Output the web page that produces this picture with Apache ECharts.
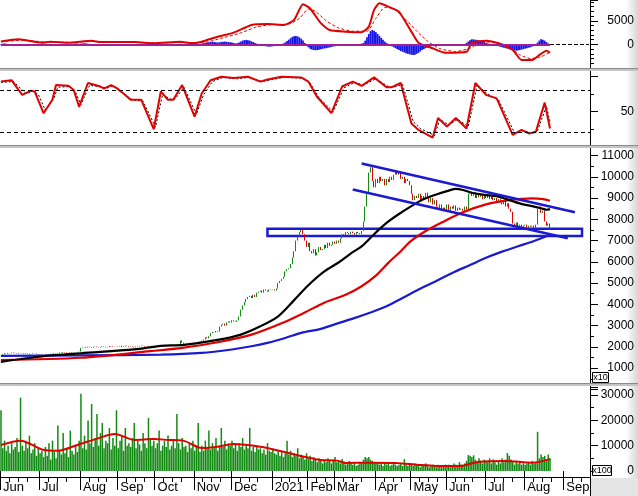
<!DOCTYPE html>
<html><head><meta charset="utf-8">
<script src="https://cdn.jsdelivr.net/npm/echarts@6/dist/echarts.min.js"></script>
<style>html,body{margin:0;padding:0;background:#fff}#c{width:638px;height:496px}</style>
</head><body><div id="c"></div>
<script>
const FONT = '"Liberation Sans", Arial, sans-serif';
// ---- axis: months (trading days per month) ----
const monthLabels = ['Jun','Jul','Aug','Sep','Oct','Nov','Dec','2021','Feb','Mar','Apr','May','Jun','Jul','Aug','Sep'];
const monthDays = [22,23,21,21,22,21,23,20,15,23,20,20,22,22,22,15];

// ---- price closes (x10) ----
const closeJun20 = [1600,1650,1700,1720,1680,1700,1740,1720,1700,1680,1720,1700,1690,1660,1700,1680,1650,1670,1700,1690,1660,1640];
const closeJul20 = [1620,1650,1640,1660,1630,1650,1680,1660,1700,1720,1700,1740,1720,1760,1740,1700,1720,1750,1730,1700,1720,1760,1780];
const closeAug20 = [1950,1980,2000,1970,2010,1990,1960,2000,2020,1990,1970,2000,2030,2010,1980,2000,2040,2020,1990,2010,2000];
const closeSep20 = [2020,2050,2000,2030,2060,2040,2010,2030,2000,1980,2020,2050,2030,2060,2040,2010,2030,2000,2020,2050,2030];
const closeOct20 = [2050,2080,2040,2060,2090,2070,2040,2060,2100,2080,2050,2070,2100,2130,2300,2200,2150,2120,2100,2080,2060,2100];
const closeNov20 = [2120,2150,2200,2250,2300,2350,2450,2400,2500,2650,2700,2680,2750,2720,2950,3050,3100,3000,3150,3200,3150];
const closeDec20 = [3250,3200,3180,3250,3430,3750,3950,4100,4250,4350,4400,4300,4450,4350,4550,4600,4650,4550,4700,4650,4600,4700,4680];
const closeJan21 = [4700,4650,4750,5000,5100,5200,5300,5550,5650,5700,5900,6200,6500,7000,7200,7400,7500,7300,7000,6700];
const closeFeb21 = [6900,6500,6400,6600,6300,6450,6700,6550,6600,6800,6650,6900,6750,6800,6950];
const closeMar21 = [6850,7000,6900,7100,7300,7250,7400,7350,7300,7420,7350,7280,7400,7350,7300,7450,7900,8600,9200,10200,10450,9800,9500];
const closeApr21 = [9900,9700,10000,9800,9900,9600,9900,9750,10000,9850,10100,10300,10100,10200,9900,10000,9700,9900,9800,9600];
const closeMay21 = [9200,8900,9100,9000,9200,8900,9100,8950,9250,9050,8800,9000,8700,8900,8600,8500,8700,8400,8550,8450];
const closeJun21 = [8700,8400,8600,8500,8650,8400,8550,8450,8500,8400,8600,8450,9200,9300,9100,9250,9000,9200,9050,9150,8950,9100];
const closeJul21 = [9000,9150,8950,9050,8900,9000,8850,8950,8800,8700,8900,8600,8750,8500,8350,7800,7700,7850,7650,7750,7600,7700];
const closeAug21 = [7750,7600,7700,7650,7700,7600,7750,8500,8600,8300,8400,7900,7700,7800,7500];

// ---- moving averages on price: [dayIndex, value] ----
const maBlack = [[0,1300],[24,1560],[45,1700],[75,1880],[90,2050],[103,2100],[122,2330],[135,2580],[146,2970],[156,3440],[165,4200],[173,4900],[182,5550],[190,5970],[197,6400],[203,6730],[210,7300],[217,7830],[224,8250],[231,8620],[238,8950],[245,9170],[252,9350],[256,9430],[260,9380],[265,9250],[272,9150],[279,9090],[288,8850],[294,8700],[299,8620],[304,8520],[307,8450],[309,8480]];
const maRed = [[0,1380],[45,1490],[84,1800],[103,1970],[122,2220],[141,2580],[159,3150],[171,3620],[182,4080],[194,4450],[203,4850],[211,5350],[218,5950],[225,6500],[231,7000],[240,7500],[248,7850],[259,8300],[273,8700],[286,8900],[299,8980],[305,8950],[309,8870]];
const maBlue = [[0,1580],[45,1600],[90,1640],[113,1720],[130,1880],[141,2030],[150,2190],[160,2420],[169,2660],[180,2850],[190,3120],[198,3330],[208,3620],[217,3910],[226,4300],[235,4700],[245,5100],[254,5480],[264,5850],[273,6190],[282,6480],[291,6730],[300,6980],[307,7200],[309,7290]];

// ---- drawn annotations: [dayIndex, price] ----
const trendUpper = [[203,10624],[323,8334]];
const trendLower = [[198,9401],[319,7111]];
const supportBox = [[150,7560],[327,7210]];

// ---- MACD ----
const macdLine = [[0,600],[10,1080],[23,360],[28,570],[38,360],[51,780],[56,480],[75,480],[86,230],[101,570],[107,230],[113,570],[122,1630],[131,2480],[141,4100],[150,4300],[159,4100],[165,5200],[170,8500],[174,7600],[180,4500],[185,3050],[194,2700],[203,2550],[207,3750],[210,7300],[213,8700],[218,8000],[224,6900],[231,2700],[235,360],[243,-830],[250,-1760],[262,-1550],[265,360],[273,780],[280,230],[288,-1200],[293,-3300],[299,-3300],[303,-2250],[307,-1330],[309,-1760]];
const macdSignal = [[0,550],[12,900],[25,500],[40,450],[53,650],[60,500],[78,450],[90,300],[104,450],[110,350],[116,500],[125,1400],[134,2300],[144,3700],[153,4200],[162,4300],[168,5500],[173,7500],[177,7000],[183,5000],[190,3500],[198,2800],[206,2800],[211,5500],[216,7800],[221,7600],[228,5200],[234,2800],[240,700],[247,-900],[256,-1500],[264,-800],[270,400],[277,500],[285,-300],[292,-2200],[298,-3000],[304,-2600],[309,-1700]];
const macdHist = [
 100,150,200,150,100,50,0,-50,-100,-150,
 -200,-250,-200,-200,-150,-200,-250,-200,-150,-100,-100,-150,-200,
 -150,-100,-50,0,50,100,50,0,-50,-100,-150,-150,-100,-100,-50,
 0,50,100,150,200,150,100,150,200,250,200,150,100,
 50,0,-50,-100,-150,-200,-200,-150,-150,-100,-150,-200,-200,-150,-100,
 -100,-150,-200,-150,-100,-50,-100,-150,-100,-50,0,-50,-100,-150,-200,-150,-100,-50,-100,-150,-200,
 -150,-100,-50,0,50,100,50,0,-50,-100,-50,0,50,100,150,100,50,0,-50,-100,-150,-100,-50,0,50,100,
 150,250,350,400,450,500,550,500,450,400,450,500,550,600,550,500,450,400,300,200,250,400,600,800,900,
 950,900,800,650,500,300,150,0,
 -100,-200,-300,-400,-450,-500,-450,-400,-350,-300,-200,-100,0,200,400,
 700,1000,1300,1600,1750,1800,1700,1500,1200,800,300,-200,
 -600,-900,-1100,-1200,-1250,-1200,-1150,-1050,-950,-850,-800,-700,-650,-550,-450,-400,-300,-250,
 -200,-150,-100,-100,-50,0,-50,-100,-50,0,50,100,150,300,
 800,1500,2200,2800,3050,2900,2600,2200,1800,1400,1000,600,300,100,
 -200,-400,-600,-800,-1000,-1200,-1400,-1550,-1700,-1850,-2000,-2100,-2200,-2250,-2200,-2000,-1800,-1500,-1200,-1000,-800,-650,-500,-400,-350,
 -300,-300,-250,-250,-300,-350,-300,-250,-200,-200,-150,-150,-100,-100,-50,0,50,100,
 300,600,900,1080,1050,1000,900,800,700,600,500,300,
 200,100,0,-100,-200,-300,-400,
 -500,-600,-700,-800,-900,-1000,-1100,-1200,-1300,-1330,-1300,-1200,-1100,-1000,-900,-800,-700,-600,-450,-300,
 0,400,800,1100,1000,800,500,200,-100];

// ---- oscillator ----
const oscK = [[0,93],[6,95],[8,88],[12,74],[17,80],[19,79],[24,48],[29,67],[31,88],[38,87],[41,81],[44,57],[49,91],[56,86],[58,83],[62,88],[65,84],[69,76],[73,67],[79,67],[86,25],[90,79],[94,67],[97,67],[102,88],[109,43],[113,76],[118,95],[124,100],[131,98],[139,100],[146,93],[150,96],[158,100],[169,99],[173,93],[178,71],[186,48],[192,86],[198,93],[203,87],[210,99],[217,85],[220,85],[225,91],[231,33],[235,24],[243,13],[246,41],[251,29],[256,41],[262,26],[267,91],[273,74],[279,69],[288,17],[293,24],[297,19],[301,21],[306,63],[309,26]];
const oscD = [[0,92],[7,93],[10,86],[14,76],[18,79],[21,75],[25,52],[30,70],[32,85],[39,86],[42,78],[45,60],[50,88],[57,85],[60,84],[63,87],[66,82],[70,74],[74,67],[80,65],[87,28],[91,75],[95,68],[98,68],[103,85],[110,46],[114,74],[119,93],[125,99],[132,97],[140,99],[147,93],[151,95],[159,99],[170,98],[174,91],[179,70],[187,50],[193,84],[199,92],[204,88],[211,97],[218,86],[221,85],[226,89],[232,36],[236,26],[244,16],[247,39],[252,31],[257,39],[263,29],[268,88],[274,75],[280,67],[289,20],[294,23],[298,20],[302,23],[307,58],[309,35]];
const oscLevels = [80, 20];

// ---- volume (x100) ----
const volJun20 = [24000,9000,12000,8000,10000,7000,11000,8500,9500,13000,7500,29000,10000,8000,12000,9000,14000,7000,8500,11000,6000,9000];
const volJul20 = [7000,8000,5500,9500,6000,11000,4500,12000,7500,5000,18000,8000,6500,15000,7000,9000,5500,16000,8000,6500,10000,7500,12000];
const volAug20 = [30500,9000,14000,8500,20000,11000,26500,9500,13000,22500,10000,15000,19000,9000,12000,11000,17000,8500,13000,10000,24000];
const volSep20 = [9000,12000,14000,8000,17000,10000,11000,9500,13000,19000,9000,12000,10500,8000,15000,11000,9000,21000,13000,10000,12000];
const volOct20 = [9000,11000,16000,8000,10000,12000,9500,14000,8500,10000,12000,9000,22500,11000,8500,13000,9500,10000,7500,11000,9000,12000];
const volNov20 = [8000,9500,19000,7500,10000,8000,12000,9000,16000,8500,11000,9000,13000,8000,10000,17000,9500,12000,8500,11000,10000];
const volDec20 = [12000,9000,10500,8000,11000,9500,13000,8500,10000,9000,17000,8000,9500,7500,10000,8500,9000,7000,8500,6500,11000,8000,7500];
const volJan21 = [9000,7000,6500,8000,6000,7500,5500,7000,12000,6500,8000,5500,7000,6000,9000,5000,6500,5500,4500,7000];
const volFeb21 = [5000,6000,4000,5500,4500,3500,5000,4000,3000,4500,3500,5000,4000,3000,4500];
const volMar21 = [5500,3500,4000,3000,4700,3500,2500,3000,4000,3500,2500,3000,2000,2500,3500,3000,4500,5500,5000,5500,4500,4000,3500];
const volApr21 = [3000,3500,2500,3000,2000,3500,2500,3000,2000,2500,3000,2500,2000,2500,3000,2000,4700,2500,2000,3000];
const volMay21 = [2500,2000,3000,2500,2000,1500,2500,2000,3000,2500,1500,2000,2500,2000,1500,2500,2000,1500,2000,2500];
const volJun21 = [2000,2500,1500,2000,3000,2500,2000,3500,2500,2000,3000,4000,6300,6000,5500,6200,4500,3500,5000,4000,3000,4500];
const volJul21 = [4000,3500,5000,3000,4500,3500,2500,4000,3000,5000,3500,4500,7100,6000,4500,3500,2500,4000,3000,3500,2500,3000];
const volAug21 = [2500,3000,3500,2500,4000,3000,3500,15500,5000,6500,5500,6000,4500,6500,5000];
const volMA = [[0,10300],[11,12000],[24,8300],[32,8000],[43,10300],[55,13000],[64,14600],[75,12300],[86,12600],[94,12300],[103,11900],[113,9100],[122,9600],[131,10700],[146,9600],[159,7600],[174,5100],[180,4300],[189,4100],[194,3200],[207,3300],[222,3200],[235,2400],[245,2000],[258,2000],[269,3700],[284,4000],[299,3300],[309,4700]];

// ---- build ----
const closes = [].concat(closeJun20,closeJul20,closeAug20,closeSep20,closeOct20,closeNov20,closeDec20,closeJan21,closeFeb21,closeMar21,closeApr21,closeMay21,closeJun21,closeJul21,closeAug21);
const volumes = [].concat(volJun20,volJul20,volAug20,volSep20,volOct20,volNov20,volDec20,volJan21,volFeb21,volMar21,volApr21,volMay21,volJun21,volJul21,volAug21);
const candles = closes.map((c,i)=>{ const o = i ? closes[i-1] : c; return [o, c, Math.min(o,c), Math.max(o,c)]; });

const cats = [], monthStart = new Set(), weekTick = new Set(), labelAt = {};
let k = 0;
monthDays.forEach((n,m)=>{
  monthStart.add(k); labelAt[k] = monthLabels[m];
  for (let d=0; d<n; d++){ if (d>0 && d%5===0 && d<n-3) weekTick.add(k+d); cats.push('d'+(k+d)); }
  k += n;
});
const lastIdx = closes.length - 1;

const BLUE = '#1a1ad0', RED = '#e00000', GREEN = '#138a13';

function yAx(gi, min, max, interval, fmt, minorSplit){
  return {type:'value', gridIndex:gi, position:'right', min, max, interval,
    axisLine:{show:true, onZero:false, lineStyle:{color:'#000', width:1}},
    axisTick:{show:true, length:8, lineStyle:{color:'#000'}},
    minorTick:{show:true, splitNumber:minorSplit, length:4, lineStyle:{color:'#000'}},
    splitLine:{show:false}, minorSplitLine:{show:false},
    axisLabel:{show:true, align:'right', margin:44, fontSize:12, color:'#000', fontFamily:FONT, formatter:fmt}};
}
function xHidden(gi){ return {type:'category', gridIndex:gi, data:cats, boundaryGap:true, show:false}; }

const chart = echarts.init(document.getElementById('c'), null, {renderer:'canvas'});
chart.setOption({
  animation:false,
  backgroundColor:'#fff',
  grid:[
    {left:0, top:0, width:590, height:68},
    {left:0, top:69.7, width:590, height:77},
    {left:0, top:147, width:590, height:242.45},
    {left:0, top:387, width:590, height:84}
  ],
  xAxis:[
    xHidden(0), xHidden(1), xHidden(2),
    {type:'category', gridIndex:3, data:cats, boundaryGap:true, position:'bottom', offset:6,
      axisLine:{show:true, onZero:false, lineStyle:{color:'#000'}},
      axisTick:{show:true, interval:(i)=>weekTick.has(i), length:5, lineStyle:{color:'#000'}},
      axisLabel:{show:true, interval:(i)=>monthStart.has(i), formatter:(v,i)=>labelAt[i]||'', align:'left', margin:4, fontSize:13, color:'#000', fontFamily:FONT, padding:[0,0,0,2]}},
    {type:'category', gridIndex:3, data:cats, boundaryGap:true, position:'bottom', offset:6,
      axisLine:{show:false}, axisLabel:{show:false},
      axisTick:{show:true, interval:(i)=>monthStart.has(i), length:19, lineStyle:{color:'#000'}}}
  ],
  yAxis:[
    yAx(0, -5000, 9400, 5000, v=>(v===0||v===5000)?String(v):'', 5),
    yAx(1, 0, 110, 50, v=>v===50?'50':'', 2),
    yAx(2, 0, 11400, 1000, v=>(v>=1000&&v<=11000&&v%1000===0)?String(v):'', 2),
    yAx(3, 0, 33200, 10000, v=>(v%10000===0&&v<=30000)?String(v):'', 2)
  ],
  series:[
    {type:'bar', xAxisIndex:0, yAxisIndex:0, data:macdHist, barCategoryGap:'0%', itemStyle:{color:'#1616e8'},
      markLine:{silent:true, symbol:['none','none'], label:{show:false},
        data:[
          [{coord:[0,0], lineStyle:{color:'#a0209a', width:2, type:'solid'}},{coord:[lastIdx,0], lineStyle:{color:'#a0209a', width:2, type:'solid'}}],
          [{coord:[lastIdx,0], lineStyle:{color:'#000', width:1, type:'dashed'}},{coord:[cats.length-1,0], lineStyle:{color:'#000', width:1, type:'dashed'}}]
        ]}},
    {type:'line', xAxisIndex:0, yAxisIndex:0, data:macdSignal, symbol:'none', smooth:0.2, lineStyle:{color:RED, width:1, type:[3,2]}},
    {type:'line', xAxisIndex:0, yAxisIndex:0, data:macdLine, symbol:'none', smooth:0.2, lineStyle:{color:RED, width:2}},
    {type:'line', xAxisIndex:1, yAxisIndex:1, data:oscD, symbol:'none', lineStyle:{color:'#000', width:1, type:[2,2]},
      markLine:{silent:true, symbol:['none','none'], label:{show:false}, lineStyle:{color:'#000', width:1, type:[4,3]},
        data:oscLevels.map(v=>({yAxis:v}))}},
    {type:'line', xAxisIndex:1, yAxisIndex:1, data:oscK, symbol:'none', lineStyle:{color:RED, width:2}},
    {type:'candlestick', xAxisIndex:2, yAxisIndex:2, data:candles, barWidth:1,
      itemStyle:{color:GREEN, borderColor:GREEN, color0:RED, borderColor0:RED, borderWidth:1}},
    {type:'line', xAxisIndex:2, yAxisIndex:2, data:maBlue, symbol:'none', smooth:0.3, lineStyle:{color:BLUE, width:2.2}},
    {type:'line', xAxisIndex:2, yAxisIndex:2, data:maRed, symbol:'none', smooth:0.3, lineStyle:{color:RED, width:2.2}},
    {type:'line', xAxisIndex:2, yAxisIndex:2, data:maBlack, symbol:'none', smooth:0.3, lineStyle:{color:'#000', width:2.2},
      markLine:{silent:true, symbol:['none','none'], label:{show:false}, lineStyle:{color:BLUE, width:2.5, type:'solid'},
        data:[[{coord:trendUpper[0]},{coord:trendUpper[1]}],[{coord:trendLower[0]},{coord:trendLower[1]}]]},
      markArea:{silent:true, label:{show:false}, itemStyle:{color:'rgba(0,0,0,0)', borderColor:BLUE, borderWidth:2.5},
        data:[[{coord:supportBox[0]},{coord:supportBox[1]}]]}},
    {type:'bar', xAxisIndex:3, yAxisIndex:3, data:volumes, barCategoryGap:'15%', itemStyle:{color:GREEN}},
    {type:'line', xAxisIndex:3, yAxisIndex:3, data:volMA, symbol:'none', smooth:0.3, lineStyle:{color:RED, width:2}}
  ],
  graphic:[
    {type:'rect', z:-10, shape:{x:626, y:0, width:12, height:496}, style:{fill:new echarts.graphic.LinearGradient(0,0,1,0,[{offset:0,color:'#ffffff'},{offset:1,color:'#d6d6d6'}])}},
    {type:'rect', z:-10, shape:{x:591, y:478, width:47, height:18}, style:{fill:'#e4e4e4'}},
    {type:'rect', z:50, shape:{x:0, y:68, width:638, height:3}, style:{fill:'#c4c4c4'}},
    {type:'line', z:50, shape:{x1:0, y1:68.5, x2:638, y2:68.5}, style:{stroke:'#8c8c8c', lineWidth:1}},
    {type:'rect', z:50, shape:{x:0, y:145, width:638, height:3}, style:{fill:'#c4c4c4'}},
    {type:'line', z:50, shape:{x1:0, y1:145.5, x2:638, y2:145.5}, style:{stroke:'#8c8c8c', lineWidth:1}},
    {type:'rect', z:50, shape:{x:0, y:383, width:638, height:3}, style:{fill:'#c4c4c4'}},
    {type:'line', z:50, shape:{x1:0, y1:383.5, x2:638, y2:383.5}, style:{stroke:'#8c8c8c', lineWidth:1}},
    {type:'line', z:50, shape:{x1:590.5, y1:470, x2:590.5, y2:496}, style:{stroke:'#000', lineWidth:1}},
    {type:'rect', z:60, shape:{x:592.5, y:372.5, width:16, height:10}, style:{fill:'#fff', stroke:'#000', lineWidth:1}},
    {type:'text', z:61, x:600.5, y:378, style:{text:'x10', font:'9px "Liberation Sans", Arial, sans-serif', fill:'#000', align:'center', verticalAlign:'middle'}},
    {type:'rect', z:60, shape:{x:592.5, y:465.5, width:19, height:10}, style:{fill:'#fff', stroke:'#000', lineWidth:1}},
    {type:'text', z:61, x:602, y:471, style:{text:'x100', font:'9px "Liberation Sans", Arial, sans-serif', fill:'#000', align:'center', verticalAlign:'middle'}}
  ]
});
</script>
</body></html>
